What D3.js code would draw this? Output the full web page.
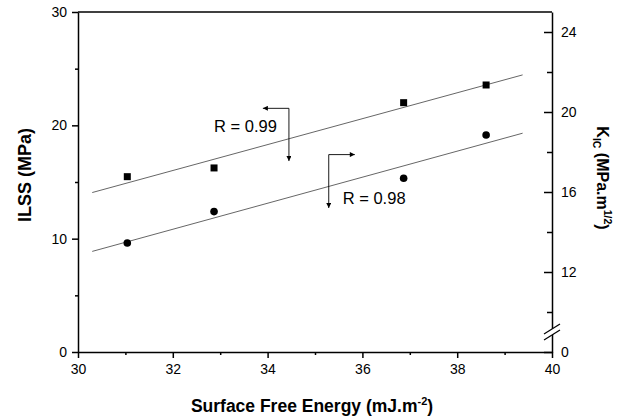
<!DOCTYPE html>
<html>
<head>
<meta charset="utf-8">
<script src="https://cdn.jsdelivr.net/npm/d3@7"></script>
<style>
  body { margin: 0; background: #fff; }
  svg { display: block; font-family: "Liberation Sans", Arial, sans-serif; }
  .axis path, .axis line { stroke: #000; stroke-width: 1.5; }
  .axis text { font-size: 14px; fill: #000; font-family: "Liberation Sans", Arial, sans-serif; }
</style>
</head>
<body>
<div class="chart"></div>
<script>
// surface free energy (mJ.m-2)
var energy = [31.04, 32.87, 36.87, 38.61];
// ILSS (MPa), squares, left axis
var ilss = [15.47, 16.24, 22.0, 23.56];
// K_IC (MPa.m^1/2), circles, right axis
var kic = [13.45, 15.02, 16.69, 18.85];

// fitted lines, end points
var fitEnergy = [30.3, 39.38];
var ilssFit = [14.07, 24.45];
var kicFit = [13.03, 18.94];

var xTicks = [30, 32, 34, 36, 38, 40];
var leftTicks = [0, 10, 20, 30];
var rightTicks = [8, 12, 16, 20, 24];
var rightTickLabels = ['0', '12', '16', '20', '24'];

var width = 626, height = 416;
var margin = { top: 12, right: 74, bottom: 64, left: 78 };

var svg = d3.select('.chart')
  .append('svg')
    .attr('width', width)
    .attr('height', height);

var x = d3.scaleLinear().domain([30, 40]).range([margin.left, width - margin.right]);
var yL = d3.scaleLinear().domain([0, 30]).range([height - margin.bottom, margin.top]);
// right axis is broken: the bottom (8) stands for 0
var yR = d3.scaleLinear().domain([8, 25]).range([height - margin.bottom, margin.top]);

// arrow head
svg.append('defs').append('marker')
    .attr('id', 'head')
    .attr('viewBox', '0 0 10 10')
    .attr('refX', 10).attr('refY', 5)
    .attr('markerWidth', 7).attr('markerHeight', 5)
    .attr('markerUnits', 'userSpaceOnUse')
    .attr('orient', 'auto')
  .append('path')
    .attr('d', 'M0,0L10,5L0,10z')
    .attr('fill', '#000');

// top frame line
svg.append('line')
  .attr('x1', x(30)).attr('x2', x(40))
  .attr('y1', yL(30)).attr('y2', yL(30))
  .attr('stroke', '#000').attr('stroke-width', 1.5);

// minor ticks first, majors on top
svg.append('g').attr('class', 'axis')
  .attr('transform', 'translate(0,' + yL(0) + ')')
  .call(d3.axisBottom(x).tickValues([31, 33, 35, 37, 39]).tickSize(3).tickFormat(''))
  .select('.domain').remove();
svg.append('g').attr('class', 'axis')
  .attr('transform', 'translate(0,' + yL(0) + ')')
  .call(d3.axisBottom(x).tickValues(xTicks).tickSize(6).tickPadding(6).tickSizeOuter(0).tickFormat(d3.format('d')));

svg.append('g').attr('class', 'axis')
  .attr('transform', 'translate(' + x(30) + ',0)')
  .call(d3.axisLeft(yL).tickValues([5, 15, 25]).tickSize(3).tickFormat(''))
  .select('.domain').remove();
svg.append('g').attr('class', 'axis')
  .attr('transform', 'translate(' + x(30) + ',0)')
  .call(d3.axisLeft(yL).tickValues(leftTicks).tickSize(6).tickPadding(5).tickSizeOuter(0));

svg.append('g').attr('class', 'axis')
  .attr('transform', 'translate(' + x(40) + ',0)')
  .call(d3.axisRight(yR).tickValues([10, 14, 18, 22]).tickSize(-5).tickFormat(''))
  .select('.domain').remove();
svg.append('g').attr('class', 'axis')
  .attr('transform', 'translate(' + x(40) + ',0)')
  .call(d3.axisRight(yR).tickValues(rightTicks).tickSizeInner(-8).tickSizeOuter(0).tickPadding(9)
    .tickFormat((d, i) => rightTickLabels[i]));

// axis break on the right axis
var brk = svg.append('g').attr('transform', 'translate(' + x(40) + ',' + yR(9) + ')');
brk.append('path')
  .attr('d', 'M-8,2L8,-8L8,-2L-8,8z')
  .attr('fill', '#fff');
brk.selectAll('line')
  .data([-3, 3])
  .enter()
  .append('line')
    .attr('x1', -8).attr('x2', 8)
    .attr('y1', d => d + 5).attr('y2', d => d - 5)
    .attr('stroke', '#000').attr('stroke-width', 1.2);

// fit lines
var fitLine = d3.line();
svg.append('path')
  .attr('d', fitLine(fitEnergy.map((e, i) => [x(e), yL(ilssFit[i])])))
  .attr('fill', 'none').attr('stroke', '#555').attr('stroke-width', 0.9);
svg.append('path')
  .attr('d', fitLine(fitEnergy.map((e, i) => [x(e), yR(kicFit[i])])))
  .attr('fill', 'none').attr('stroke', '#555').attr('stroke-width', 0.9);

// squares
svg.selectAll('.sq')
  .data(energy)
  .enter()
  .append('rect')
    .attr('class', 'sq')
    .attr('x', d => x(d) - 3.5)
    .attr('y', (d, i) => yL(ilss[i]) - 3.5)
    .attr('width', 7).attr('height', 7)
    .attr('fill', '#000');

// circles
svg.selectAll('.dot')
  .data(energy)
  .enter()
  .append('circle')
    .attr('class', 'dot')
    .attr('cx', d => x(d))
    .attr('cy', (d, i) => yR(kic[i]))
    .attr('r', 3.8)
    .attr('fill', '#000');

// R annotations with elbow arrows
function arrow(x1, y1, x2, y2) {
  svg.append('line')
    .attr('x1', x1).attr('y1', y1).attr('x2', x2).attr('y2', y2)
    .attr('stroke', '#000').attr('stroke-width', 0.9)
    .attr('marker-end', 'url(#head)');
}
// R = 0.99 -> left axis
arrow(x(34.45), yL(21.5), x(33.9), yL(21.5));
arrow(x(34.45), yL(21.5), x(34.45), yL(16.85));
svg.append('text')
  .attr('x', x(32.87)).attr('y', yL(19.4))
  .attr('font-size', 16.5)
  .text('R = 0.99');

// R = 0.98 -> right axis
arrow(x(35.29), yR(17.87), x(35.84), yR(17.87));
arrow(x(35.29), yR(17.87), x(35.29), yR(15.2));
svg.append('text')
  .attr('x', x(35.585)).attr('y', yR(15.4))
  .attr('font-size', 16.5)
  .text('R = 0.98');

// axis titles
var xt = svg.append('text')
  .attr('x', 312).attr('y', 412)
  .attr('text-anchor', 'middle')
  .attr('font-size', 17.5).attr('font-weight', 'bold')
  .text('Surface Free Energy (mJ.m');
xt.append('tspan').attr('dy', -7).attr('font-size', 11).text('-2');
xt.append('tspan').attr('dy', 7).text(')');

svg.append('text')
  .attr('transform', 'translate(31,175) rotate(-90)')
  .attr('text-anchor', 'middle')
  .attr('font-size', 18).attr('font-weight', 'bold')
  .text('ILSS (MPa)');

var yt = svg.append('text')
  .attr('transform', 'translate(597,178) rotate(90)')
  .attr('text-anchor', 'middle')
  .attr('font-size', 16).attr('font-weight', 'bold')
  .text('K');
yt.append('tspan').attr('dy', 4).attr('font-size', 10.5).text('IC');
yt.append('tspan').attr('dy', -4).text(' (MPa.m');
yt.append('tspan').attr('dy', -7).attr('font-size', 10.5).text('1/2');
yt.append('tspan').attr('dy', 7).text(')');
</script>
</body>
</html>
